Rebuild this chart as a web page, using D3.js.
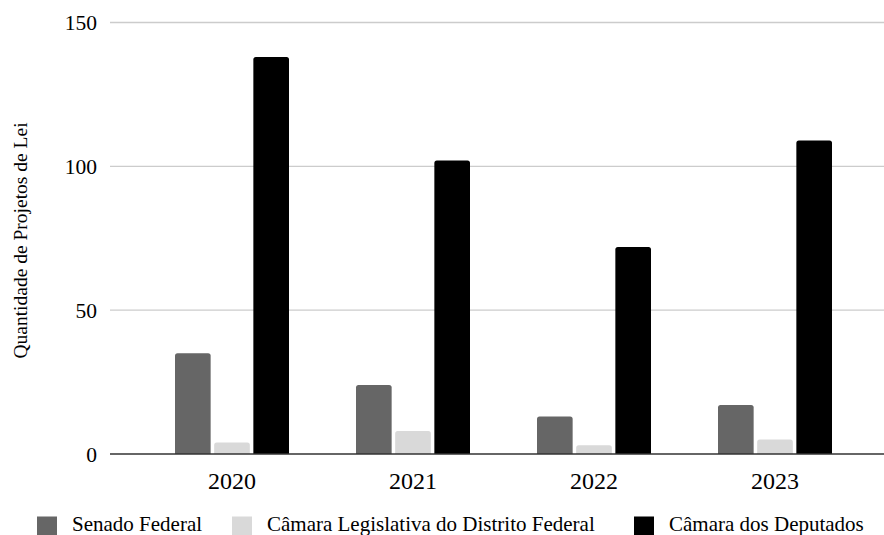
<!DOCTYPE html>
<html>
<head>
<meta charset="utf-8">
<script src="https://cdn.jsdelivr.net/npm/d3@7"></script>
<style>
  html, body { margin: 0; padding: 0; background: #fff; }
  svg text { font-family: 'Liberation Serif', 'Tinos', 'Times New Roman', Times, 'DejaVu Serif', serif; }
</style>
</head>
<body>
<svg id="chart" width="884" height="535" font-family="Liberation Serif"></svg>
<script>
const categories = ["2020", "2021", "2022", "2023"];
const seriesNames = ["Senado Federal", "Câmara Legislativa do Distrito Federal", "Câmara dos Deputados"];
const senado = [35, 24, 13, 17];
const cldf = [4, 8, 3, 5];
const camara = [138, 102, 72, 109];
const yTicks = [0, 50, 100, 150];
const colors = ["#666666", "#d9d9d9", "#000000"];

const seriesValues = [senado, cldf, camara];
const data = categories.map((c, i) => ({
  cat: c,
  vals: seriesNames.map((s, j) => ({ key: s, value: seriesValues[j][i], color: colors[j] }))
}));

const svg = d3.select("#chart");
const FONT = "'Liberation Serif', 'Times New Roman', serif";

const y = d3.scaleLinear().domain([0, 150]).range([454, 22.5]);
const x0 = d3.scaleBand().domain(categories).range([141.5, 865.5]).padding(0);
const x1 = d3.scaleBand().domain(seriesNames).range([33.5, 147.5]).paddingInner(0.09).paddingOuter(0);

// gridlines
svg.append("g").selectAll("line").data(yTicks.filter(d => d > 0)).join("line")
  .attr("x1", 110).attr("x2", 884)
  .attr("y1", d => y(d)).attr("y2", d => y(d))
  .attr("stroke", "#cccccc").attr("stroke-width", 1.3);

// y tick labels
svg.append("g").selectAll("text").data(yTicks).join("text")
  .attr("x", 97).attr("y", d => y(d) + 7.5)
  .attr("text-anchor", "end")
  .style("font-family", FONT)
  .attr("font-size", 21.5).attr("fill", "#000")
  .text(d => d);

// bars
const groups = svg.append("g").selectAll("g").data(data).join("g")
  .attr("transform", d => `translate(${x0(d.cat)},0)`);
groups.selectAll("path").data(d => d.vals).join("path")
  .attr("fill", d => d.color)
  .attr("d", d => {
    const xL = x1(d.key), w = x1.bandwidth();
    const top = y(d.value), bot = y(0);
    const r = Math.min(2.5, (bot - top) / 2);
    return `M${xL},${bot} L${xL},${top + r} Q${xL},${top} ${xL + r},${top} L${xL + w - r},${top} Q${xL + w},${top} ${xL + w},${top + r} L${xL + w},${bot} Z`;
  });

// baseline
svg.append("line")
  .attr("x1", 110).attr("x2", 884)
  .attr("y1", y(0)).attr("y2", y(0))
  .attr("stroke", "#333333").attr("stroke-width", 1.5);

// x labels
svg.append("g").selectAll("text").data(categories).join("text")
  .attr("x", d => x0(d) + x0.bandwidth() / 2)
  .attr("y", 488.5)
  .attr("text-anchor", "middle")
  .style("font-family", FONT)
  .attr("font-size", 24).attr("fill", "#000")
  .text(d => d);

// y axis title
svg.append("text")
  .attr("transform", "translate(27,240.5) rotate(-90)")
  .attr("text-anchor", "middle")
  .style("font-family", FONT)
  .attr("font-size", 19.5).attr("fill", "#000")
  .text("Quantidade de Projetos de Lei");

// legend
const legendX = [37, 232, 634];
const leg = svg.append("g").selectAll("g").data(seriesNames).join("g")
  .attr("transform", (d, i) => `translate(${legendX[i]},0)`);
leg.append("rect")
  .attr("x", 0).attr("y", 516.5).attr("width", 20).attr("height", 19)
  .attr("fill", (d, i) => colors[i]);
leg.append("text")
  .attr("x", 35).attr("y", 531)
  .style("font-family", FONT)
  .attr("font-size", 21).attr("fill", "#000")
  .text(d => d);
</script>
</body>
</html>
